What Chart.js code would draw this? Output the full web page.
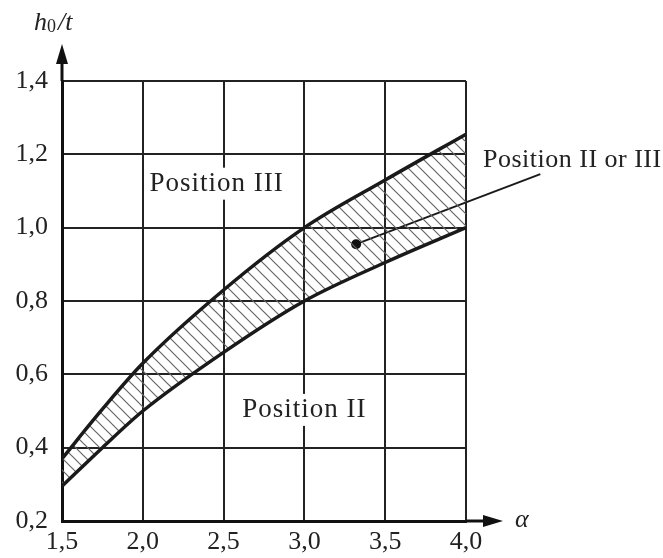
<!DOCTYPE html>
<html lang="en">
<head>
  <meta charset="UTF-8">
  <title>h0/t vs alpha</title>
  <script src="https://cdn.jsdelivr.net/npm/chart.js"></script>
  <style>
    body { margin: 0; background: #fff; }
  </style>
</head>
<body>
  <canvas id="grafico" width="663" height="558"></canvas>

  <script>
    // Values
    const alpha = [1.5, 1.75, 2.0, 2.5, 3.0, 3.5, 4.0];
    const upperCurve = [0.37, 0.505, 0.63, 0.83, 1.00, 1.13, 1.255];
    const lowerCurve = [0.295, 0.40, 0.50, 0.66, 0.80, 0.905, 1.00];

    const xTicks = [1.5, 2.0, 2.5, 3.0, 3.5, 4.0];
    const yTicks = [0.2, 0.4, 0.6, 0.8, 1.0, 1.2, 1.4];

    // leader line: dot inside the band -> end near the label
    const leaderX = [3.32, 4.46];
    const leaderY = [0.955, 1.146];

    const labels = [
      { text: 'Position III', x: 2.457, y: 1.12, align: 'center', size: 27, spacing: 1 },
      { text: 'Position II', x: 3.0, y: 0.503, align: 'center', size: 27, spacing: 1 },
      { text: 'Position II or III', x: 4.105, y: 1.184, align: 'left', size: 26, spacing: 0.5, plain: true }
    ];

    const FONT = '"Liberation Serif", "DejaVu Serif", serif';
    const fmt = v => v.toFixed(1).replace('.', ',');

    // hatch pattern (\\\)
    const pc = document.createElement('canvas');
    pc.width = 12; pc.height = 12;
    const pctx = pc.getContext('2d');
    pctx.strokeStyle = '#666';
    pctx.lineWidth = 1.2;
    pctx.beginPath();
    pctx.moveTo(-2, -2); pctx.lineTo(14, 14);
    pctx.moveTo(-2, 10); pctx.lineTo(2, 14);
    pctx.moveTo(10, -2); pctx.lineTo(14, 2);
    pctx.stroke();
    const hatch = pctx.createPattern(pc, 'repeat');

    const extras = {
      id: 'extras',
      afterDraw(chart) {
        const ctx = chart.ctx;
        const xs = chart.scales.x, ys = chart.scales.y;
        const x0 = xs.getPixelForValue(1.5), y0 = ys.getPixelForValue(0.2);
        const yTop = ys.getPixelForValue(1.4), xRight = xs.getPixelForValue(4.0);
        ctx.save();
        ctx.fillStyle = '#111';
        ctx.strokeStyle = '#111';
        ctx.lineWidth = 3;
        // y axis extension + arrow
        ctx.beginPath();
        ctx.moveTo(x0, yTop); ctx.lineTo(x0, yTop - 22); ctx.stroke();
        ctx.beginPath();
        ctx.moveTo(x0, yTop - 37); ctx.lineTo(x0 - 6, yTop - 17); ctx.lineTo(x0 + 6, yTop - 17);
        ctx.closePath(); ctx.fill();
        // x axis extension + arrow
        ctx.beginPath();
        ctx.moveTo(xRight, y0); ctx.lineTo(xRight + 22, y0); ctx.stroke();
        ctx.beginPath();
        ctx.moveTo(xRight + 37, y0); ctx.lineTo(xRight + 17, y0 - 6); ctx.lineTo(xRight + 17, y0 + 6);
        ctx.closePath(); ctx.fill();

        // axis titles
        ctx.fillStyle = '#222';
        ctx.textBaseline = 'alphabetic';
        ctx.textAlign = 'left';
        ctx.font = 'italic 26px ' + FONT;
        ctx.fillText('h', 34, 30);
        ctx.font = '18px ' + FONT;
        ctx.fillText('0', 47, 32);
        ctx.font = 'italic 26px ' + FONT;
        ctx.fillText('/t', 58, 30);
        ctx.fillText('\u03b1', xRight + 49, y0 + 6);

        // region labels
        ctx.textBaseline = 'middle';
        ctx.textAlign = 'left';
        labels.forEach(l => {
          ctx.font = l.size + 'px ' + FONT;
          ctx.letterSpacing = l.spacing + 'px';
          const px = xs.getPixelForValue(l.x), py = ys.getPixelForValue(l.y);
          const w = ctx.measureText(l.text).width;
          const left = l.align === 'center' ? px - w / 2 : px;
          if (!l.plain) {
            ctx.fillStyle = '#fff';
            ctx.fillRect(left - 4, py - 16, w + 8, 32);
          }
          ctx.fillStyle = '#222';
          ctx.fillText(l.text, left, py);
        });
        ctx.restore();
      }
    };

    const ctx = document.getElementById('grafico').getContext('2d');
    new Chart(ctx, {
      type: 'scatter',
      data: {
        datasets: [
          {
            label: 'lower',
            data: alpha.map((a, i) => ({ x: a, y: lowerCurve[i] })),
            showLine: true,
            borderColor: '#1a1a1a',
            borderWidth: 3.5,
            pointRadius: 0,
            cubicInterpolationMode: 'monotone',
            fill: false
          },
          {
            label: 'upper',
            data: alpha.map((a, i) => ({ x: a, y: upperCurve[i] })),
            showLine: true,
            borderColor: '#1a1a1a',
            borderWidth: 3.5,
            pointRadius: 0,
            cubicInterpolationMode: 'monotone',
            backgroundColor: hatch,
            fill: '-1'
          },
          {
            label: 'leader',
            data: leaderX.map((a, i) => ({ x: a, y: leaderY[i] })),
            showLine: true,
            borderColor: '#1a1a1a',
            borderWidth: 2,
            pointRadius: [5, 0],
            pointBackgroundColor: '#111',
            pointBorderWidth: 0,
            clip: false,
            fill: false
          }
        ]
      },
      options: {
        responsive: false,
        animation: false,
        layout: { padding: { top: 81, right: 197, left: 0, bottom: 0 } },
        plugins: {
          legend: { display: false },
          tooltip: { enabled: false }
        },
        scales: {
          x: {
            type: 'linear',
            min: 1.5, max: 4.0,
            afterFit: s => { s.height = 37; },
            afterBuildTicks: s => { s.ticks = xTicks.map(v => ({ value: v })); },
            grid: { color: '#222', lineWidth: 2, drawTicks: false },
            border: { color: '#111', width: 3 },
            ticks: {
              padding: 6,
              color: '#222',
              font: { family: FONT, size: 26 },
              callback: v => fmt(v)
            }
          },
          y: {
            type: 'linear',
            min: 0.2, max: 1.4,
            afterFit: s => { s.width = 62; },
            afterBuildTicks: s => { s.ticks = yTicks.map(v => ({ value: v })); },
            grid: { color: '#222', lineWidth: 2, drawTicks: false },
            border: { color: '#111', width: 3 },
            ticks: {
              padding: 14,
              color: '#222',
              font: { family: FONT, size: 26 },
              callback: v => fmt(v)
            }
          }
        }
      },
      plugins: [extras]
    });
  </script>
</body>
</html>
